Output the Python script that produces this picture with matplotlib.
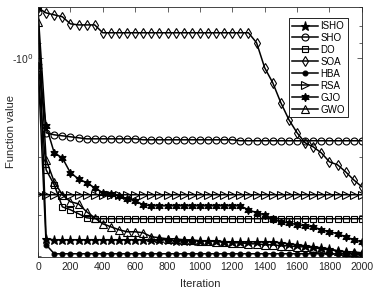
import numpy as np
import matplotlib
matplotlib.use("Agg")
import matplotlib.pyplot as plt
from matplotlib.ticker import FixedLocator, FuncFormatter, NullFormatter

# iterations where values are sampled (every 50)
iters = np.arange(0, 2001, 50)

isho = [-0.700, -3.550] + [-3.575] * 15 + [-3.600] * 6 + [-3.626] * 7 + \
       [-3.651, -3.677, -3.702, -3.728, -3.755, -3.781, -3.808, -3.862, -3.889, -3.943, -3.971]
sho = [-0.725, -1.690, -1.714, -1.726, -1.738, -1.750] + [-1.763] * 7 + [-1.775] * 12 + [-1.787] * 16
do = [-1.118, -2.190, -2.433, -2.838, -2.897, -2.979, -3.064] + [-3.085] * 34
soa = [-0.705, -0.730, -0.740, -0.750, -0.788, -0.794, -0.794, -0.794] + [-0.839] * 19 + \
      [-0.900, -1.072, -1.191, -1.370, -1.543, -1.690, -1.813, -1.865, -1.945, -2.071,
       -2.115, -2.221, -2.350, -2.466]
hba = [-1.050, -3.702] + [-3.943] * 39
rsa = [-2.600] + [-2.608] * 40
gjo = [-1.058, -1.610, -1.945, -2.014, -2.237, -2.333, -2.399, -2.484, -2.571, -2.589,
       -2.626, -2.683, -2.721, -2.798, -2.818] + [-2.818] * 11 + \
      [-2.897, -2.958, -3.000, -3.085, -3.152, -3.174, -3.218, -3.241, -3.264, -3.333,
       -3.380, -3.428, -3.499, -3.575, -3.626]
gwo = [-0.777, -2.042, -2.382, -2.608, -2.740, -2.779, -2.938, -3.064, -3.196, -3.264,
       -3.333, -3.380, -3.380, -3.404, -3.499, -3.525, -3.550, -3.550, -3.575, -3.575,
       -3.600, -3.600, -3.626, -3.626, -3.651, -3.651, -3.677, -3.677, -3.702, -3.702,
       -3.728, -3.728, -3.755, -3.755, -3.781, -3.808, -3.835, -3.862, -3.889, -3.889, -3.916]

series = [
    ("ISHO", isho, dict(marker='*', mfc='k', ms=6.5)),
    ("SHO", sho, dict(marker='o', mfc='none', ms=5)),
    ("DO", do, dict(marker='s', mfc='none', ms=4.5)),
    ("SOA", soa, dict(marker='d', mfc='none', ms=5.5)),
    ("HBA", hba, dict(marker='o', mfc='k', ms=3.5)),
    ("RSA", rsa, dict(marker='>', mfc='none', ms=5.5)),
    ("GJO", gjo, dict(marker=(6, 1, 0), mfc='k', ms=6)),
    ("GWO", gwo, dict(marker='^', mfc='none', ms=5.5)),
]

plt.rcParams['font.family'] = ['Arial', 'Liberation Sans', 'DejaVu Sans']
fig = plt.figure(figsize=(3.73, 2.88), dpi=100)
ax = fig.add_axes([0.102, 0.108, 0.868, 0.868])

for name, vals, st in series:
    ax.plot(iters, -np.array(vals), color='k', lw=1.1, mec='k', mew=0.8,
            label=name, **st)

ax.set_yscale('log')
ax.set_xlim(0, 2000)
ax.set_ylim(4.03, 0.70)
ax.set_xticks(np.arange(0, 2001, 200))
ax.yaxis.set_major_locator(FixedLocator([1.0]))
ax.yaxis.set_major_formatter(FuncFormatter(lambda v, p: r"-10$^{0}$"))
ax.yaxis.set_minor_locator(FixedLocator([0.7, 0.8, 0.9, 2, 3, 4]))
ax.yaxis.set_minor_formatter(NullFormatter())

ax.tick_params(which='both', direction='in', top=True, right=True,
               labelsize=7.5, colors='#262626', width=0.5)
ax.tick_params(which='major', length=3.5)
ax.tick_params(which='minor', length=2)
for s in ax.spines.values():
    s.set_linewidth(0.6)
    s.set_color('#262626')

ax.set_xlabel("Iteration", fontsize=8, color='#262626', labelpad=5)
ax.set_ylabel("Function value", fontsize=8, color='#262626')
ax.yaxis.set_label_coords(-0.068, 0.5)

leg = ax.legend(loc='upper right', fontsize=7, numpoints=1, handlelength=2.6,
                handletextpad=0.3, labelspacing=0.2, borderpad=0.3,
                fancybox=False, framealpha=1, edgecolor='k',
                bbox_to_anchor=(0.972, 0.975))
leg.get_frame().set_linewidth(0.6)

fig.savefig("out.png", dpi=100)
